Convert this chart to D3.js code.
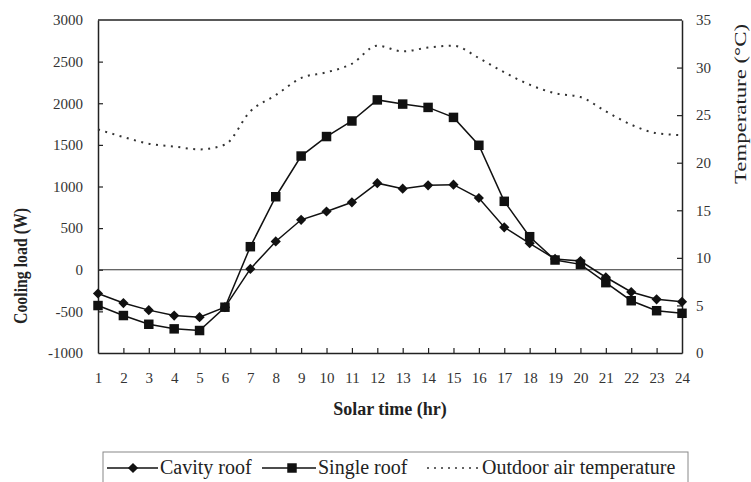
<!DOCTYPE html>
<html>
<head>
<meta charset="utf-8">
<script src="https://cdn.jsdelivr.net/npm/d3@7"></script>
<style>
  body { margin: 0; background: #fff; }
  svg text { font-family: "Liberation Serif", "DejaVu Serif", serif; }
</style>
</head>
<body>
<div id="chart"></div>
<script>
// data
var hours = d3.range(1, 25);
var cavityRoof = [-285, -400, -485, -550, -570, -450, 10, 340, 600, 700, 810, 1040,
                  974, 1014, 1022, 862, 510, 318, 130, 105, -90, -267, -355, -385];
var singleRoof = [-430, -550, -655, -710, -730, -450, 277, 877, 1366, 1600, 1787, 2040,
                  1990, 1950, 1830, 1495, 822, 397, 117, 65, -155, -372, -492, -523];
var outdoorTemp = [23.5, 22.7, 22.0, 21.7, 21.4, 21.9, 25.4, 27.1, 28.9, 29.5, 30.4, 32.3,
                   31.7, 32.1, 32.3, 31.0, 29.5, 28.2, 27.3, 26.9, 25.4, 24.0, 23.1, 22.9];
var loadTicks = [-1000, -500, 0, 500, 1000, 1500, 2000, 2500, 3000];
var tempTicks = [0, 5, 10, 15, 20, 25, 30, 35];

function drawChart() {
    const width = 751, height = 482;
    const left = 98, right = 682, top = 20, bottom = 353;

    const svg = d3.select("#chart").append("svg")
        .attr("width", width)
        .attr("height", height);

    const x = d3.scaleLinear().domain([1, 24]).range([left, right]);
    const yLoad = d3.scaleLinear().domain([-1000, 3000]).range([bottom, top]);
    const yTemp = d3.scaleLinear().domain([0, 35]).range([bottom, top]);

    const plain = d => String(d).replace("\u2212", "-");

    // left axis (ticks point inward)
    const axL = svg.append("g").attr("transform", `translate(${left},0)`)
        .call(d3.axisLeft(yLoad).tickValues(loadTicks).tickFormat(plain)
            .tickSizeInner(-5).tickSizeOuter(0).tickPadding(15));
    // right axis
    const axR = svg.append("g").attr("transform", `translate(${right},0)`)
        .call(d3.axisRight(yTemp).tickValues(tempTicks).tickFormat(plain)
            .tickSizeInner(-5).tickSizeOuter(0).tickPadding(14));
    // bottom axis
    const axB = svg.append("g").attr("transform", `translate(0,${bottom})`)
        .call(d3.axisBottom(x).tickValues(hours).tickFormat(plain)
            .tickSizeInner(-5).tickSizeOuter(0).tickPadding(19));

    [axL, axR, axB].forEach(function(g) {
        g.attr("font-family", "Liberation Serif").attr("font-size", 15);
        g.selectAll("path").attr("stroke", "#222").attr("stroke-width", 1.5);
        g.selectAll("line").attr("stroke", "#222").attr("stroke-width", 1.2);
        g.selectAll("text").attr("fill", "#333");
    });
    // hide end ticks that sit on the frame
    axB.selectAll(".tick").filter(d => d === 1 || d === 24).select("line").remove();
    axL.selectAll(".tick").filter(d => d === -1000 || d === 3000).select("line").remove();
    axR.selectAll(".tick").filter(d => d === 0 || d === 35).select("line").remove();

    // top frame
    svg.append("line")
        .attr("x1", left).attr("x2", right).attr("y1", top).attr("y2", top)
        .attr("stroke", "#222").attr("stroke-width", 1.5);

    // zero line
    svg.append("line")
        .attr("x1", left).attr("x2", right)
        .attr("y1", yLoad(0)).attr("y2", yLoad(0))
        .attr("stroke", "#333").attr("stroke-width", 1.2);

    // temperature dotted line
    const tempLine = d3.line().x((d, i) => x(hours[i])).y(d => yTemp(d)).curve(d3.curveMonotoneX);
    svg.append("path")
        .attr("d", tempLine(outdoorTemp))
        .attr("fill", "none")
        .attr("stroke", "#333")
        .attr("stroke-width", 2)
        .attr("stroke-dasharray", "2,5.5");

    const loadLine = d3.line().x((d, i) => x(hours[i])).y(d => yLoad(d));

    svg.append("path").attr("d", loadLine(singleRoof))
        .attr("fill", "none").attr("stroke", "#111").attr("stroke-width", 1.5);
    svg.append("path").attr("d", loadLine(cavityRoof))
        .attr("fill", "none").attr("stroke", "#111").attr("stroke-width", 1.5);

    const diamond = d3.symbol().type(d3.symbolSquare).size(52);
    const square = d3.symbol().type(d3.symbolSquare).size(90);

    svg.append("g").selectAll("path")
        .data(singleRoof).enter().append("path")
        .attr("d", square)
        .attr("transform", (d, i) => `translate(${x(hours[i])},${yLoad(d)})`)
        .attr("fill", "#111");
    svg.append("g").selectAll("path")
        .data(cavityRoof).enter().append("path")
        .attr("d", diamond)
        .attr("transform", (d, i) => `translate(${x(hours[i])},${yLoad(d)}) rotate(45)`)
        .attr("fill", "#111");

    // axis titles
    svg.append("text")
        .attr("transform", `translate(27,266) rotate(-90)`)
        .attr("text-anchor", "middle")
        .attr("font-size", 18).attr("font-weight", "bold").attr("fill", "#222")
        .attr("textLength", 116).attr("lengthAdjust", "spacingAndGlyphs")
        .text("Cooling load (W)");
    svg.append("text")
        .attr("transform", `translate(746,104) rotate(-90)`)
        .attr("text-anchor", "middle")
        .attr("font-size", 16).attr("fill", "#222")
        .attr("textLength", 160).attr("lengthAdjust", "spacingAndGlyphs")
        .text("Temperature (°C)");
    svg.append("text")
        .attr("x", 390).attr("y", 415)
        .attr("text-anchor", "middle")
        .attr("font-size", 18).attr("font-weight", "bold").attr("fill", "#222")
        .text("Solar time (hr)");

    // legend
    const legend = svg.append("g");
    legend.append("rect")
        .attr("x", 103).attr("y", 452).attr("width", 585).attr("height", 40)
        .attr("fill", "none").attr("stroke", "#888").attr("stroke-width", 1);
    const ly = 468;
    legend.append("line").attr("x1", 107).attr("x2", 158).attr("y1", ly).attr("y2", ly)
        .attr("stroke", "#111").attr("stroke-width", 1.5);
    legend.append("path").attr("d", diamond).attr("transform", `translate(133,${ly}) rotate(45)`).attr("fill", "#111");
    legend.append("text").attr("x", 160).attr("y", ly + 6)
        .attr("font-size", 20).attr("fill", "#222").text("Cavity roof");
    legend.append("line").attr("x1", 262).attr("x2", 316).attr("y1", ly).attr("y2", ly)
        .attr("stroke", "#111").attr("stroke-width", 1.5);
    legend.append("path").attr("d", square).attr("transform", `translate(292,${ly})`).attr("fill", "#111");
    legend.append("text").attr("x", 318).attr("y", ly + 6)
        .attr("font-size", 20).attr("fill", "#222").text("Single roof");
    legend.append("line").attr("x1", 427).attr("x2", 480).attr("y1", ly).attr("y2", ly)
        .attr("stroke", "#333").attr("stroke-width", 1.3).attr("stroke-dasharray", "2,5");
    legend.append("text").attr("x", 482).attr("y", ly + 6)
        .attr("font-size", 20).attr("fill", "#222").text("Outdoor air temperature");
}

drawChart();
</script>
</body>
</html>
